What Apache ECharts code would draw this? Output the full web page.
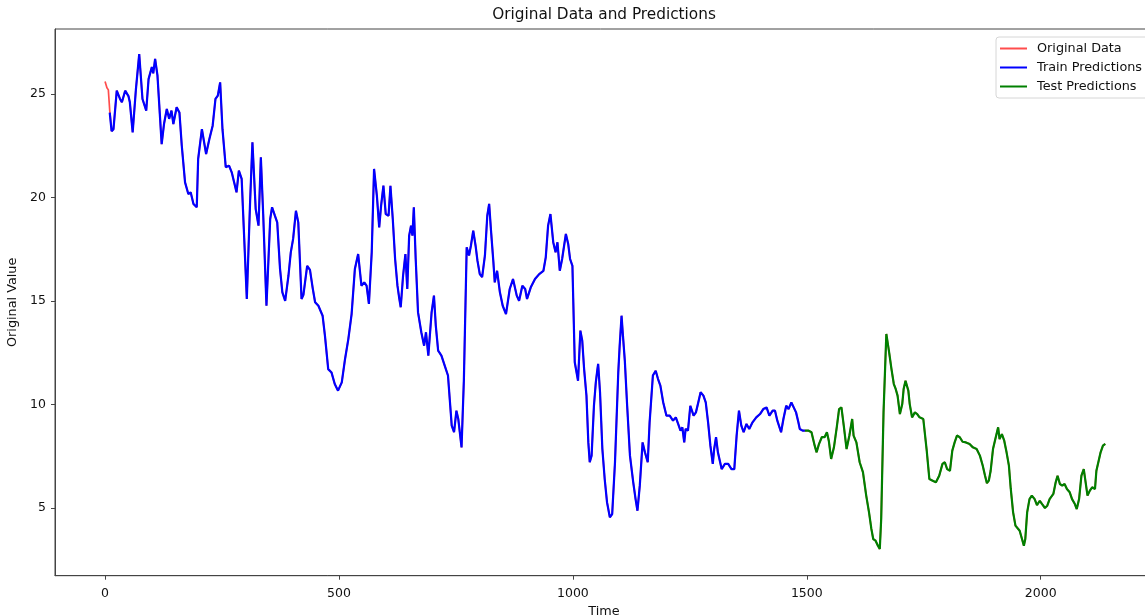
<!DOCTYPE html>
<html>
<head>
<meta charset="utf-8">
<title>Original Data and Predictions</title>
<script src="https://cdn.jsdelivr.net/npm/echarts@6/dist/echarts.min.js"></script>
<style>
  html, body { margin: 0; padding: 0; background: #fff; }
  #chart { width: 1145px; height: 615px; }
</style>
</head>
<body>
<div id="chart"></div>
<script>
// values, [time, value]
const headPoints = [
  [0, 25.6], [4, 25.3], [7, 25.2], [10, 24.2]
]

const trainPoints = [
  [10, 24.1], [14, 23.2], [18, 23.3], [25, 25.16], [32, 24.76], [36, 24.6], [43, 25.16], [50, 24.9],
  [53, 24.6], [59, 23.15], [66, 25.24], [73, 26.93], [80, 24.76], [88, 24.2], [93, 25.72], [100, 26.3],
  [103, 26.0], [107, 26.7], [112, 25.9], [121, 22.58], [126, 23.55], [132, 24.28], [137, 23.8], [142, 24.2],
  [146, 23.55], [153, 24.36], [159, 24.1], [164, 22.5], [171, 20.73], [178, 20.17], [183, 20.25], [189, 19.69],
  [196, 19.53], [199, 21.86], [207, 23.3], [216, 22.1], [223, 22.83], [230, 23.47], [236, 24.76], [241, 24.92],
  [246, 25.56], [251, 23.3], [258, 21.46], [265, 21.54], [271, 21.2], [276, 20.73], [281, 20.25], [286, 21.3],
  [292, 20.9], [303, 15.1], [310, 19.77], [315, 22.67], [322, 19.44], [328, 18.64], [333, 21.94], [338, 19.2],
  [345, 14.77], [353, 18.96], [357, 19.53], [363, 19.12], [368, 18.8], [374, 16.55], [379, 15.42], [385, 15.01],
  [392, 16.22], [397, 17.35], [402, 18.0], [408, 19.36], [413, 18.8], [420, 15.1], [424, 15.3], [432, 16.7],
  [438, 16.5], [444, 15.6], [449, 14.94], [456, 14.77], [465, 14.29], [470, 13.33], [477, 11.71], [484, 11.55],
  [491, 10.99], [498, 10.67], [506, 11.07], [513, 12.2], [520, 13.16], [527, 14.37], [534, 16.55], [541, 17.27],
  [548, 15.74], [554, 15.9], [559, 15.74], [564, 14.86], [570, 17.35], [575, 21.38], [581, 20.09], [586, 18.56],
  [590, 19.6], [595, 20.57], [600, 19.2], [606, 19.12], [610, 20.57], [615, 18.96], [620, 17.03], [625, 15.74],
  [629, 15.1], [632, 14.7], [637, 16.22], [642, 17.27], [646, 15.58], [650, 18.16], [654, 18.64], [657, 18.16],
  [660, 19.53], [664, 17.03], [669, 14.45], [676, 13.49], [682, 12.84], [686, 13.49], [691, 12.36], [698, 14.45],
  [703, 15.26], [707, 13.8], [712, 12.6], [719, 12.36], [726, 11.88], [733, 11.4], [741, 8.98], [746, 8.66],
  [751, 9.7], [755, 9.3], [762, 7.93], [767, 11.2], [773, 17.6], [778, 17.2], [782, 17.67], [787, 18.4],
  [792, 17.67], [796, 16.95], [801, 16.3], [806, 16.15], [812, 17.2], [817, 19.12], [821, 19.69], [825, 18.4],
  [830, 16.9], [833, 15.9], [838, 16.46], [844, 15.42], [850, 14.77], [857, 14.37], [865, 15.58], [872, 16.06],
  [880, 15.26], [885, 15.01], [892, 15.74], [898, 15.58], [902, 15.1], [910, 15.66], [919, 16.06], [928, 16.3],
  [937, 16.46], [942, 17.11], [947, 18.64], [952, 19.2], [958, 17.84], [963, 17.35], [967, 17.84], [972, 16.46],
  [977, 17.03], [980, 16.95], [985, 18.24], [990, 17.75], [994, 17.03], [999, 16.7], [1004, 12.04], [1011, 11.15],
  [1016, 13.57], [1020, 13.08], [1024, 11.71], [1029, 10.43], [1033, 8.17], [1036, 7.21], [1040, 7.53], [1045, 9.94],
  [1049, 11.07], [1052, 11.63], [1054, 11.96], [1058, 10.59], [1063, 7.85], [1068, 6.4], [1073, 5.27], [1079, 4.55],
  [1084, 4.71], [1090, 7.21], [1097, 11.55], [1100, 12.84], [1104, 14.29], [1107, 13.33], [1111, 12.12], [1116, 9.94],
  [1122, 7.53], [1129, 6.24], [1134, 5.43], [1138, 4.87], [1143, 6.08], [1149, 8.17], [1154, 7.69], [1160, 7.21],
  [1164, 9.14], [1171, 11.4], [1177, 11.63], [1182, 11.23], [1187, 10.91], [1193, 10.11], [1200, 9.46], [1207, 9.46],
  [1214, 9.22], [1220, 9.38], [1225, 9.06], [1230, 8.74], [1234, 8.9], [1238, 8.17], [1241, 8.82], [1246, 8.74],
  [1251, 9.94], [1258, 9.46], [1263, 9.62], [1268, 10.1], [1273, 10.59], [1279, 10.43], [1284, 10.1], [1289, 9.14],
  [1294, 8.0], [1299, 7.13], [1302, 7.85], [1306, 8.42], [1310, 7.69], [1318, 6.88], [1325, 7.13], [1332, 7.13],
  [1339, 6.88], [1345, 6.88], [1350, 8.5], [1355, 9.7], [1360, 8.98], [1365, 8.66], [1371, 9.06], [1377, 8.82],
  [1384, 9.14], [1392, 9.38], [1400, 9.54], [1407, 9.78], [1414, 9.86], [1420, 9.46], [1427, 9.7], [1432, 9.7],
  [1437, 9.22], [1445, 8.66], [1450, 9.3], [1456, 9.94], [1461, 9.78], [1467, 10.1], [1472, 9.86], [1477, 9.62],
  [1482, 9.14], [1485, 8.82], [1491, 8.74], [1496, 8.74]
]

const testPoints = [
  [1496, 8.74], [1503, 8.74], [1510, 8.66], [1517, 8.0], [1521, 7.69], [1526, 8.09], [1532, 8.42], [1538, 8.42],
  [1543, 8.66], [1547, 8.25], [1552, 7.37], [1558, 7.93], [1564, 8.9], [1569, 9.78], [1574, 9.86], [1579, 8.98],
  [1585, 7.85], [1591, 8.5], [1597, 9.3], [1600, 8.5], [1606, 8.17], [1613, 7.21], [1620, 6.73], [1627, 5.6],
  [1633, 4.79], [1638, 3.99], [1642, 3.5], [1647, 3.42], [1652, 3.18], [1656, 3.02], [1659, 4.47], [1664, 9.62],
  [1670, 13.41], [1676, 12.52], [1681, 11.71], [1686, 10.99], [1690, 10.75], [1694, 10.43], [1699, 9.54], [1704, 10.02],
  [1707, 10.75], [1711, 11.15], [1717, 10.67], [1720, 10.02], [1725, 9.38], [1731, 9.62], [1736, 9.54], [1741, 9.38],
  [1749, 9.3], [1756, 7.85], [1762, 6.4], [1769, 6.32], [1776, 6.24], [1783, 6.56], [1790, 7.13], [1795, 7.21],
  [1800, 6.88], [1806, 6.8], [1811, 7.77], [1816, 8.17], [1821, 8.5], [1827, 8.42], [1833, 8.2], [1840, 8.17],
  [1848, 8.09], [1855, 7.93], [1863, 7.85], [1870, 7.53], [1876, 7.05], [1881, 6.56], [1885, 6.2], [1889, 6.32],
  [1893, 6.8], [1898, 7.85], [1903, 8.33], [1909, 8.9], [1912, 8.33], [1917, 8.57], [1922, 8.25], [1927, 7.69],
  [1932, 7.05], [1936, 5.92], [1941, 4.79], [1946, 4.15], [1950, 4.23], [1955, 3.9], [1960, 3.5], [1964, 3.18],
  [1967, 3.5], [1971, 4.79], [1976, 5.43], [1981, 5.6], [1987, 5.43], [1992, 5.14], [1998, 5.35], [2003, 5.19],
  [2009, 5.0], [2014, 5.11], [2019, 5.43], [2027, 5.68], [2032, 6.24], [2036, 6.56], [2041, 6.16], [2046, 6.08],
  [2051, 6.16], [2056, 5.92], [2062, 5.76], [2067, 5.43], [2073, 5.19], [2077, 4.95], [2082, 5.43], [2087, 6.56],
  [2092, 6.88], [2096, 6.24], [2100, 5.6], [2105, 5.84], [2110, 6.0], [2116, 5.92], [2119, 6.8], [2124, 7.29],
  [2128, 7.69], [2133, 8.01], [2138, 8.1]
]

const xTicks = [0, 500, 1000, 1500, 2000]
const yTicks = [5, 10, 15, 20, 25]

// original data runs under both prediction lines
const originalPoints = headPoints.concat(trainPoints.slice(1), testPoints.slice(1))

const font = 'DejaVu Sans'
const ink = '#111'
const spine = '#444'

const chart = echarts.init(document.getElementById('chart'), null, { renderer: 'canvas' })

const option = {
  animation: false,
  backgroundColor: '#fff',
  title: {
    text: 'Original Data and Predictions',
    left: 604,
    top: 8,
    padding: 0,
    textAlign: 'center',
    textStyle: { fontFamily: font, fontSize: 15.3, fontWeight: 'normal', color: ink }
  },
  legend: {
    orient: 'vertical',
    left: 996,
    top: 37,
    padding: [4, 10, 4, 4],
    itemGap: 4,
    itemWidth: 27,
    itemHeight: 2,
    icon: 'rect',
    borderColor: '#d6d6d6',
    borderWidth: 1,
    borderRadius: 3,
    backgroundColor: 'rgba(255,255,255,0.8)',
    textStyle: { fontFamily: font, fontSize: 12.8, color: ink, lineHeight: 15, padding: [0, 0, 0, 5] },
    data: ['Original Data', 'Train Predictions', 'Test Predictions']
  },
  // the plot area runs a little past the right edge of the picture
  grid: {
    left: 55,
    top: 29,
    width: 1098,
    height: 546.7,
    outerBoundsMode: 'none',
    containLabel: false,
    show: true,
    borderColor: spine,
    borderWidth: 1
  },
  xAxis: {
    type: 'value',
    min: -107,
    max: 2240,
    name: 'Time',
    nameLocation: 'middle',
    nameGap: 27,
    nameTextStyle: { fontFamily: font, fontSize: 12.8, color: ink },
    axisLine: { show: true, onZero: false, lineStyle: { color: spine, width: 1 } },
    axisTick: { show: true, customValues: xTicks, length: 4, lineStyle: { color: spine } },
    axisLabel: {
      customValues: xTicks,
      margin: 12,
      fontFamily: font,
      fontSize: 12.5,
      color: ink,
      formatter: v => String(v)
    },
    splitLine: { show: false }
  },
  yAxis: {
    type: 'value',
    min: 1.73,
    max: 28.14,
    name: 'Original Value',
    nameLocation: 'middle',
    nameGap: 27,
    nameTextStyle: { fontFamily: font, fontSize: 12.8, color: ink },
    axisLine: { show: true, onZero: false, lineStyle: { color: spine, width: 1 } },
    axisTick: { show: true, customValues: yTicks, length: 4, lineStyle: { color: spine } },
    axisLabel: {
      customValues: yTicks,
      margin: 9,
      fontFamily: font,
      fontSize: 12.5,
      color: ink,
      formatter: v => String(v)
    },
    splitLine: { show: false }
  },
  series: [
    {
      name: 'Original Data',
      type: 'line',
      data: originalPoints,
      symbol: 'none',
      color: 'rgba(255,0,0,0.7)',
      lineStyle: { color: 'rgba(255,0,0,0.7)', width: 1.7 }
    },
    {
      name: 'Train Predictions',
      type: 'line',
      data: trainPoints,
      symbol: 'none',
      color: '#0000ff',
      lineStyle: { color: '#0000ff', width: 2.2 }
    },
    {
      name: 'Test Predictions',
      type: 'line',
      data: testPoints,
      symbol: 'none',
      color: '#008000',
      lineStyle: { color: '#008000', width: 2.2 }
    }
  ]
}

chart.setOption(option)
</script>
</body>
</html>
